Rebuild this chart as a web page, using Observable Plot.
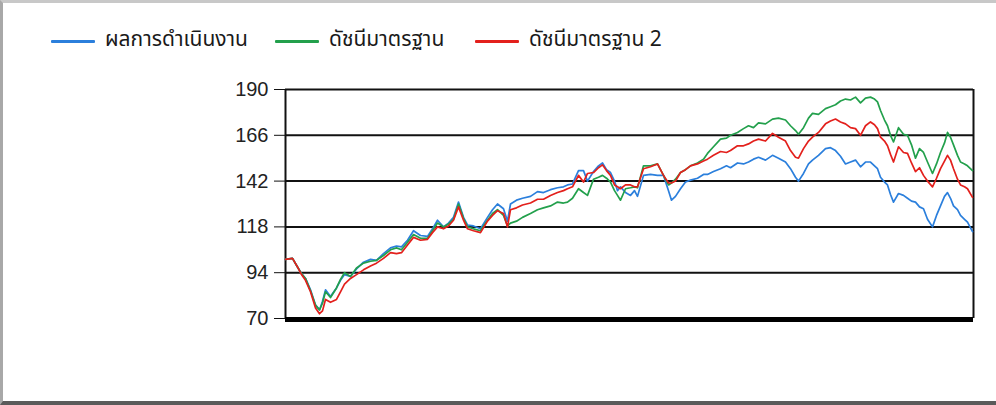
<!DOCTYPE html>
<html>
<head>
<meta charset="utf-8">
<script src="https://cdn.jsdelivr.net/npm/d3@7"></script>
<script src="https://cdn.jsdelivr.net/npm/@observablehq/plot@0.6"></script>
<style>
  html, body { margin: 0; padding: 0; background: #fff; }
  #wrap { position: relative; width: 996px; height: 405px; overflow: hidden; background: #fff; }
  #border { position: absolute; left: 0; top: 0; width: 996px; height: 405px; box-sizing: border-box;
            border-top: 3px solid #c8c8c8; border-left: 3px solid #a8a8a8; border-bottom: 4px solid #5a5a5a;
            pointer-events: none; }
  #legend { position: absolute; left: 0; top: 0; width: 996px; height: 80px;
            font-family: "Noto Sans Thai", Tahoma, "DejaVu Sans", sans-serif; font-size: 21px; color: #1a1a1a; }
  .sw { position: absolute; top: 40px; width: 44px; height: 3px; border-radius: 1px; }
  .lab { position: absolute; top: 26px; line-height: 28px; white-space: nowrap; }
  #chart { position: absolute; left: 0; top: 0; }
</style>
</head>
<body>
<div id="wrap">
  <div id="chart"></div>
  <div id="legend"></div>
  <div id="border"></div>
</div>
<script>
// Series names (legend labels) and colours
const seriesNames = ["ผลการดำเนินงาน", "ดัชนีมาตรฐาน", "ดัชนีมาตรฐาน 2"];
const seriesColors = ["#2b7fdc", "#23a04c", "#e3201c"];

// Y-axis tick labels
const yTicks = [70, 94, 118, 142, 166, 190];

// Trading-day index of each sample
const day = [0, 7, 12, 16, 20, 25, 30, 34, 37, 40, 45, 51, 55, 59, 65, 71, 78, 85, 91, 98,
  105, 111, 116, 122, 128, 135, 142, 147, 152, 158, 163, 168, 173, 178, 182, 188, 195, 202, 207, 212,
  218, 222, 225, 231, 237, 245, 252, 258, 265, 272, 278, 282, 287, 293, 298, 302, 308, 313, 317, 321,
  325, 329, 332, 335, 340, 345, 349, 352, 358, 365, 372, 378, 383, 386, 390, 395, 400, 405, 412, 418,
  422, 428, 435, 441, 445, 452, 458, 463, 468, 473, 480, 487, 493, 500, 505, 510, 513, 518, 523, 527,
  533, 540, 545, 550, 555, 560, 565, 570, 575, 580, 585, 589, 592, 595, 599, 602, 605, 608, 613, 618,
  622, 626, 630, 634, 638, 642, 647, 651, 655, 659, 662, 665, 668, 672, 675, 679, 682, 687];

// ผลการดำเนินงาน (blue)
const fund = [101, 101.5, 97, 93.5, 91, 85, 77, 74.5, 79, 85, 81.5, 86, 90, 93, 92, 96, 99.5, 101, 100.5, 104,
  107, 108, 107.5, 111, 116, 113.5, 113, 117, 121.5, 118, 120, 123, 131, 123, 119, 118.5, 117, 123, 127, 130,
  127.5, 121, 130, 132, 133, 134, 136.5, 136, 137.5, 138.5, 139, 140, 140.5, 147.5, 147.5, 142, 147, 150, 151.5, 148,
  146.5, 142, 137, 139, 136, 134.5, 137, 134, 145, 145.5, 145, 145, 137, 132, 134, 138, 141.5, 142.5, 143.5, 145.5,
  145.5, 147, 148.5, 150, 149, 151.5, 151, 152, 153.5, 154.5, 153, 155.5, 154, 152, 148.5, 144, 142, 146, 151, 153,
  155.5, 159, 159.5, 158, 155, 151, 152, 153, 149.5, 152, 152, 150, 148.5, 144, 141.5, 140, 135, 131, 135.5, 134.5,
  133, 131.5, 131, 128.5, 127.5, 122, 118, 124, 129, 134, 136, 133, 129, 127, 124, 122, 120.5, 115.5];

// ดัชนีมาตรฐาน (green)
const bench = [101, 101.5, 97, 93.5, 91, 84.5, 77, 74.5, 78, 84, 81, 86, 90.5, 94, 92, 96.5, 99, 100, 100.5, 103,
  106, 107, 106, 110, 114, 112, 112, 116, 120, 118, 119.5, 122, 130, 122.5, 118, 117, 116, 121.5, 125, 127,
  124, 118.5, 120, 121, 123, 125, 127, 128, 129, 131, 130.5, 131, 133, 138, 136, 134.5, 143, 144, 145, 143.5,
  141.5, 137, 134.5, 132, 138, 138.5, 139, 138.5, 150, 150, 151, 145, 140, 141, 143, 146.5, 148, 150, 151.5, 153.5,
  156.5, 160, 164, 164.5, 166, 167.5, 169.5, 171, 170, 172.5, 172, 174.5, 175, 174, 171, 168.5, 166.5, 170, 175, 177.5,
  177, 180, 181, 182, 184, 185, 184.5, 186, 183, 185.5, 186, 185, 183.5, 179, 174, 171, 166, 162.5, 170, 166.5,
  166, 161, 154, 159, 157, 152, 146, 151, 157, 162, 167.5, 165, 161, 155.5, 152, 151, 150, 147.5];

// ดัชนีมาตรฐาน 2 (red)
const bench2 = [101, 101.5, 97, 93, 90, 84, 75.5, 72.5, 74, 80, 78.5, 80, 84, 88, 91, 93, 95.5, 97.5, 99, 101.5,
  104.5, 104, 104.5, 108.5, 112.5, 111, 111.5, 115, 118, 117, 118.5, 121.5, 128.5, 121.5, 117, 116, 115, 121, 124, 126.5,
  125, 118, 127, 128, 129.5, 130.5, 132.5, 132.5, 134.5, 136, 137, 138, 139, 145, 141.5, 146, 146.5, 149, 150.5, 147.5,
  145, 140, 139, 138, 140, 140, 139, 139, 148.5, 149.5, 151, 145, 141, 141, 142, 146.5, 148, 150, 151, 152.5,
  153.5, 155.5, 157.5, 157, 158, 160.5, 160.5, 161.5, 163, 164, 163, 167, 165, 163, 158, 154.5, 154, 159, 163, 165,
  167.5, 172, 173.5, 174.5, 173, 172, 170, 169.5, 166, 171, 173, 171.5, 169.5, 165, 163, 160.5, 156, 152, 160, 157,
  156.5, 151.5, 147, 149, 145, 142, 139, 143.5, 148.5, 152.5, 155.5, 153, 148.5, 143, 140, 139, 138, 133.5];

const seriesValues = [fund, bench, bench2];

const rows = [];
seriesValues.forEach((vals, si) => {
  vals.forEach((v, i) => rows.push({ day: day[i], value: v, series: seriesNames[si] }));
});

const chart = Plot.plot({
  width: 996,
  height: 405,
  marginLeft: 285,
  marginRight: 23,
  marginTop: 89,
  marginBottom: 87,
  style: { background: "transparent", fontFamily: "Liberation Sans, Arial, sans-serif" },
  x: { domain: [0, 688], axis: null },
  y: { domain: [70, 190], label: null },
  color: { domain: seriesNames, range: seriesColors },
  marks: [
    Plot.ruleY(yTicks.slice(1), { stroke: "#111", strokeWidth: 2 }),
    Plot.ruleX([0, 688], { stroke: "#111", strokeWidth: 2 }),
    Plot.axisY({
      ticks: yTicks,
      label: null,
      tickSize: 11,
      tickPadding: 6,
      fontSize: 20,
      stroke: "#111",
      fill: "#222",
      tickFormat: d => String(d)
    }),
    Plot.lineY(rows, { x: "day", y: "value", z: "series", stroke: "series", strokeWidth: 1.7, curve: "linear" }),
    Plot.ruleY([70], { stroke: "#000", strokeWidth: 5, dy: 1 })
  ]
});
document.getElementById("chart").appendChild(chart);

// Legend (HTML above the plot)
const legend = document.getElementById("legend");
const legendSwatchLeft = [51, 275, 475];
seriesNames.forEach((name, i) => {
  const sw = document.createElement("div");
  sw.className = "sw";
  sw.style.left = legendSwatchLeft[i] + "px";
  sw.style.background = seriesColors[i];
  const label = document.createElement("span");
  label.className = "lab";
  label.style.left = (legendSwatchLeft[i] + 54) + "px";
  label.textContent = name;
  legend.appendChild(sw);
  legend.appendChild(label);
});
</script>
</body>
</html>
